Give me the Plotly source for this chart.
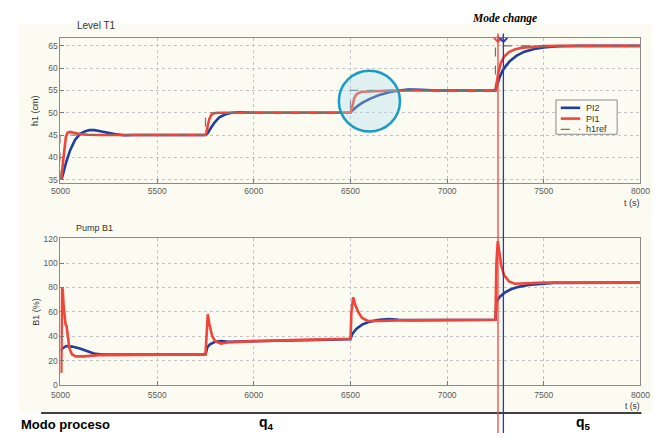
import plotly.graph_objects as go

W, H = 666, 438

# ---------------- data ----------------
# Level T1 (h1, cm)
h1_pi1_t = [5000, 5004, 5012, 5020, 5028, 5036, 5050, 5070, 5100, 5140, 5200, 5750,
            5755, 5762, 5770, 5780, 5795, 5815, 5850, 6000, 6500,
            6505, 6512, 6520, 6530, 6545, 6565, 6600, 6650, 6720, 7250,
            7256, 7265, 7278, 7295, 7320, 7350, 7390, 7440, 7500, 7580, 8000]
h1_pi1 = [36.5, 35.0, 38.5, 42.0, 44.6, 45.5, 45.7, 45.5, 45.2, 45.05, 45.0, 45.0,
          45.6, 47.2, 48.6, 49.5, 49.9, 50.0, 50.0, 50.0, 50.0,
          50.6, 52.0, 53.3, 54.1, 54.5, 54.7, 54.8, 54.9, 55.0, 55.0,
          56.5, 59.0, 61.2, 62.6, 63.6, 64.2, 64.6, 64.8, 64.95, 65.0, 65.0]

h1_pi2_t = [5000, 5005, 5015, 5030, 5050, 5075, 5100, 5125, 5150, 5175, 5200, 5240,
            5280, 5330, 5380, 5750, 5760, 5775, 5795, 5820, 5850, 5880, 5920, 6000, 6500,
            6510, 6530, 6560, 6600, 6650, 6700, 6750, 6800, 6860, 6950, 7250,
            7258, 7270, 7285, 7300, 7325, 7360, 7400, 7450, 7510, 7580, 7680, 8000]
h1_pi2 = [36.0, 35.0, 36.5, 39.0, 41.6, 43.9, 45.2, 45.8, 46.1, 46.1, 45.9, 45.5,
          45.2, 44.95, 45.0, 45.0, 45.3, 46.4, 47.7, 48.9, 49.6, 49.95, 50.1, 50.0, 50.0,
          50.5, 51.3, 52.2, 53.1, 54.0, 54.6, 55.0, 55.2, 55.15, 55.0, 55.0,
          56.3, 57.8, 59.3, 60.3, 61.6, 62.8, 63.7, 64.3, 64.7, 64.9, 65.0, 65.0]

ref_t = [5000, 5000, 5750, 5750, 6500, 6500, 7250, 7250, 8000]
h1_ref = [35, 45, 45, 50, 50, 55, 55, 65, 65]

# Pump B1 (%)
b1_pi1_t = [5000, 5004, 5008, 5012, 5016, 5020, 5026, 5032, 5038, 5046, 5060, 5080, 5120,
            5200, 5750, 5755, 5762, 5770, 5785, 5800, 5830, 5870, 6000, 6250, 6500,
            6505, 6514, 6524, 6540, 6560, 6590, 6650, 6750, 7250,
            7255, 7262, 7270, 7280, 7295, 7320, 7350, 7400, 7500, 8000]
b1_pi1 = [12, 10, 80, 78, 65, 60, 50, 48, 40, 30, 25, 23.5, 23.5,
          24.5, 25, 45, 58, 50, 40, 36, 34, 35, 36, 37, 38,
          60, 72, 66, 60, 55, 52.5, 52.5, 53, 53.5,
          100, 118, 110, 98, 90, 85, 83, 83.5, 84, 84]

b1_pi2_t = [5000, 5010, 5030, 5060, 5100, 5140, 5180, 5220, 5750,
            5760, 5775, 5800, 5830, 5870, 6000, 6250, 6500,
            6510, 6530, 6560, 6600, 6650, 6700, 6750, 6800, 7250,
            7255, 7270, 7300, 7330, 7370, 7420, 7480, 7550, 8000]
b1_pi2 = [28, 30, 32, 31.5, 30, 27.5, 25.5, 25, 25,
          31, 33.5, 35.5, 36, 35.5, 36, 37, 37.5,
          42, 46, 49.5, 52, 53.5, 54, 53.5, 53.2, 53.5,
          68, 72, 76, 78.5, 80.5, 82, 83, 83.8, 84]

x_ticks = [5000, 5500, 6000, 6500, 7000, 7500, 8000]
h1_ticks = [35, 40, 45, 50, 55, 60, 65]
b1_ticks = [0, 20, 40, 60, 80, 100, 120]

legend_names = ["PI2", "PI1", "h1ref"]

mode_change_pi1 = 7263
mode_change_pi2 = 7291

# ---------------- styling ----------------
BLUE = "#1f3f9a"
RED = "#f0453a"
REFC = "#707070"
CREAM = "#fcfbf1"
GRID = "#c4c4c4"
TICKC = "#5a5a5a"
FONT = "Liberation Sans"


def px_x(p):
    return p / W


def px_y(p):
    return 1 - p / H


XD = [px_x(53), px_x(650)]
Y1D = [px_y(182.7), px_y(35)]
Y2D = [px_y(389), px_y(239)]


def t_to_paper(t):
    return XD[0] + (t - 5000) / 3000 * (XD[1] - XD[0])


fig = go.Figure()

fig.add_trace(go.Scatter(x=h1_pi2_t, y=h1_pi2, name=legend_names[0], mode="lines",
                         line=dict(color=BLUE, width=2.6), xaxis="x", yaxis="y"))
fig.add_trace(go.Scatter(x=h1_pi1_t, y=h1_pi1, name=legend_names[1], mode="lines",
                         line=dict(color=RED, width=2.6), xaxis="x", yaxis="y"))
fig.add_trace(go.Scatter(x=ref_t, y=h1_ref, name=legend_names[2], mode="lines",
                         line=dict(color=REFC, width=1.2, dash="dash"), xaxis="x", yaxis="y"))

fig.add_trace(go.Scatter(x=b1_pi2_t, y=b1_pi2, name=legend_names[0], mode="lines",
                         line=dict(color=BLUE, width=2.6), xaxis="x2", yaxis="y2"))
fig.add_trace(go.Scatter(x=b1_pi1_t, y=b1_pi1, name=legend_names[1], mode="lines",
                         line=dict(color=RED, width=2.6), xaxis="x2", yaxis="y2"))

axis_common = dict(showline=True, linecolor="#8a8a8a", linewidth=1, mirror=True,
                   ticks="inside", ticklen=4, tickcolor="#777", showgrid=True,
                   gridcolor=GRID, griddash="dot", gridwidth=1, zeroline=False,
                   tickfont=dict(family=FONT, size=8.5, color=TICKC))

fig.update_layout(
    width=W, height=H,
    margin=dict(l=0, r=0, t=0, b=0),
    paper_bgcolor="white",
    plot_bgcolor=CREAM,
    xaxis=dict(domain=XD, range=[5000, 8000], tickvals=x_ticks, anchor="y", **axis_common),
    yaxis=dict(domain=Y1D, range=[34.25, 66.7], tickvals=h1_ticks, anchor="x", **axis_common),
    xaxis2=dict(domain=XD, range=[5000, 8000], tickvals=x_ticks, anchor="y2",
                ticklabelstandoff=2, **axis_common),
    yaxis2=dict(domain=Y2D, range=[0, 120.5], tickvals=b1_ticks, anchor="x2", **axis_common),
    showlegend=False,
)

shapes = []
# cream background behind the figure region
shapes.append(dict(type="rect", xref="paper", yref="paper", layer="below",
                   x0=px_x(10), x1=px_x(662), y0=px_y(417), y1=px_y(20),
                   fillcolor=CREAM, line=dict(width=0)))
# highlight circle
shapes.append(dict(type="circle", xref="x", yref="y", layer="above",
                   x0=6440, x1=6756, y0=45.8, y1=59.4,
                   fillcolor="rgba(175,220,238,0.35)", line=dict(color="#1a9bc4", width=2.5)))
# process mode separator line
shapes.append(dict(type="line", xref="paper", yref="paper",
                   x0=px_x(33), x1=px_x(651), y0=px_y(417.7), y1=px_y(417.7),
                   line=dict(color="black", width=1.5)))
# mode change vertical lines
for tc, col in [(mode_change_pi1, "#f0453a"), (mode_change_pi2, "#1f3fb0")]:
    shapes.append(dict(type="line", xref="paper", yref="paper",
                       x0=t_to_paper(tc), x1=t_to_paper(tc), y0=px_y(30), y1=0,
                       line=dict(color=col, width=1.3)))

# compact legend box (MATLAB style)
shapes.append(dict(type="rect", xref="paper", yref="paper", layer="above",
                   x0=px_x(563), x1=px_x(626), y0=px_y(133), y1=px_y(98),
                   fillcolor=CREAM, line=dict(color="#8a8a8a", width=1)))
leg_styles = [dict(color=BLUE, width=2.6), dict(color=RED, width=2.6),
              dict(color=REFC, width=1.2, dash="dash")]
leg_y = [106, 117, 128]
for ly, st in zip(leg_y, leg_styles):
    shapes.append(dict(type="line", xref="paper", yref="paper", layer="above",
                       x0=px_x(568), x1=px_x(588), y0=px_y(ly), y1=px_y(ly), line=st))
fig.update_layout(shapes=shapes)

ann = []
def txt(text, x, y, size, color="#333", family=FONT, angle=0, xanchor="center", **kw):
    ann.append(dict(text=text, x=px_x(x), y=px_y(y), xref="paper", yref="paper",
                    showarrow=False, xanchor=xanchor, yanchor="middle", textangle=angle,
                    font=dict(family=family, size=size, color=color), **kw))

txt("Level T1", 90, 22, 10)
txt("h1 (cm)", 27, 109, 9, angle=-90)
txt("t (s)", 641, 203, 9)
txt("Pump B1", 88, 229, 9)
txt("B1 (%)", 27, 314, 9, angle=-90)
txt("t (s)", 642, 410.5, 8.5)
txt("<b>Modo proceso</b>", 10, 429, 13, color="black", xanchor="left")
txt("<b>q<sub>4</sub></b>", 265, 428, 14, color="black")
txt("<b>q<sub>5</sub></b>", 591, 428, 14, color="black")
txt("<b><i>Mode change</i></b>", 510, 15, 11.5, color="black", family="Liberation Serif")
for ly, name in zip(leg_y, legend_names):
    txt(name, 592, ly, 9, color="#333", xanchor="left")

for tc, col in [(mode_change_pi1, "#f0453a"), (mode_change_pi2, "#1f3fb0")]:
    ann.append(dict(x=t_to_paper(tc), y=px_y(40), xref="paper", yref="paper",
                    ax=0, ay=-10, axref="pixel", ayref="pixel", text="",
                    showarrow=True, arrowhead=4, arrowsize=1.2, arrowwidth=1.3,
                    arrowcolor=col))

fig.update_layout(annotations=ann)

fig.write_html("out.html")
